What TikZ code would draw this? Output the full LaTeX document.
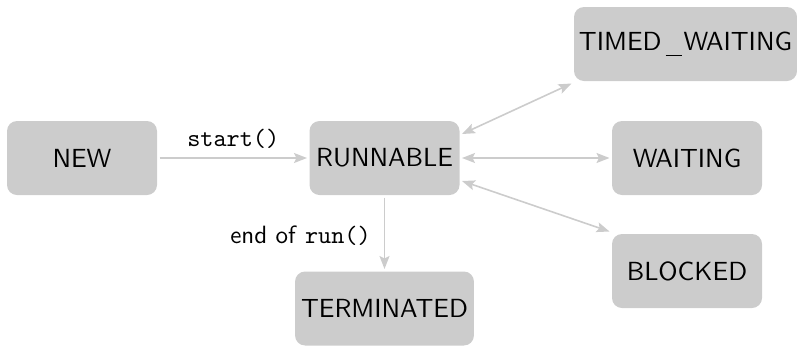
\documentclass[tikz,border=0pt]{standalone}
\usetikzlibrary{arrows.meta,positioning,calc}
\definecolor{boxgray}{HTML}{CCCCCC}
\definecolor{linegray}{HTML}{CCCCCC}
\newcommand{\nodetext}[1]{\scalebox{2.62}{\fontsize{10}{12}\selectfont\sffamily #1}}
\newcommand{\lbltext}[1]{\scalebox{2.5}{\fontsize{10}{12}\selectfont #1}}
\begin{document}
\begin{tikzpicture}[x=1pt,y=-1pt,
  state/.style={fill=boxgray, rounded corners=10pt, minimum width=150pt, minimum height=74pt,
    inner xsep=6pt, outer sep=2.5pt, text=black},
  conn/.style={draw=linegray, line width=1.6pt, -{Stealth[length=13pt,width=10pt,inset=2.5pt]}},
  biconn/.style={draw=linegray, line width=1.6pt, {Stealth[length=13pt,width=10pt,inset=2.5pt]}-{Stealth[length=13pt,width=10pt,inset=2.5pt]}},
  lbl/.style={text=black, inner sep=0pt}
]
\useasboundingbox (0,0) rectangle (797,346);
\node[state] (new) at (82,158) {\nodetext{NEW}};
\node[state] (run) at (384.5,158) {\nodetext{RUNNABLE}};
\node[state, inner xsep=3pt, minimum width=223pt] (tw) at (685.5,44) {\nodetext{TIMED\kern1.5pt\rule[-2.3pt]{6.4pt}{0.65pt}\kern0.5pt WAITING}};
\node[state] (wait) at (687,158) {\nodetext{WAITING}};
\node[state] (blk) at (687,271) {\nodetext{BLOCKED}};
\node[state] (term) at (384.5,308.5) {\nodetext{TERMINATED}};

\draw[conn] (new.east) -- node[lbl, above=9pt] {\lbltext{\texttt{start()}}} (run.west);
\draw[biconn] ([yshift=24pt]run.east) -- (tw.south west);
\draw[biconn] (run.east) -- (wait.west);
\draw[biconn] ([yshift=-23pt]run.east) -- (blk.north west);
\draw[conn] (run.south) -- node[lbl, left=13pt, yshift=-2pt] {\lbltext{\sffamily end of \texttt{run()}}} (term.north);
\end{tikzpicture}
\end{document}
